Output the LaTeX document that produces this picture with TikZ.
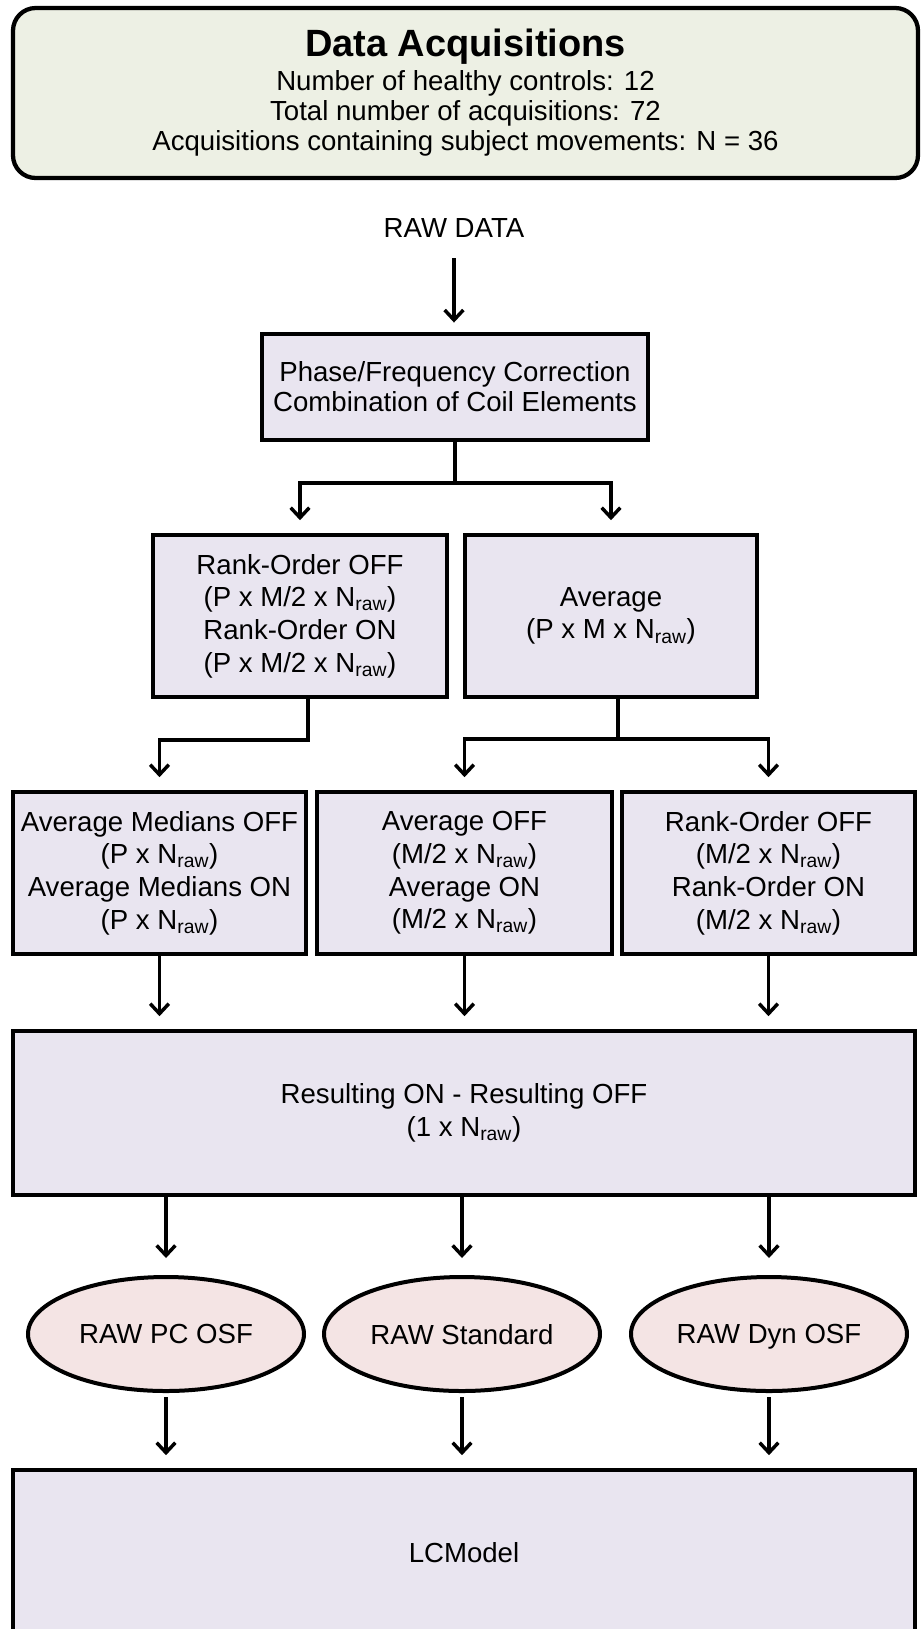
\documentclass[tikz,border=0pt]{standalone}
\usepackage{fontspec}
\setmainfont{Liberation Sans}
\usetikzlibrary{arrows.meta,shapes.geometric}

\definecolor{acqfill}{RGB}{237,240,228}
\definecolor{boxfill}{RGB}{233,229,240}
\definecolor{ovalfill}{RGB}{244,228,228}

\newcommand{\Nraw}{N\textsubscript{raw}}

\tikzset{every picture/.style={line width=0.75pt}}
\tikzset{
	blk/.style={draw, line width=3.2pt, fill=boxfill, align=center, inner sep=0pt, font=\fontsize{20.7}{24.5}\selectfont},
	oval/.style={ellipse, draw, line width=3pt, fill=ovalfill, inner sep=0pt, text depth=0pt, minimum width=207pt, minimum height=85.5pt, font=\fontsize{20.7}{24.5}\selectfont},
	arr/.style={line width=2.6pt, -{Straight Barb[length=7.5pt,width=14pt]}, shorten >=9.5pt},
	lnk/.style={line width=2.6pt}
}

\begin{document}
\begin{tikzpicture}[x=0.75pt,y=0.75pt,yscale=-1,xscale=1]
	\useasboundingbox (0,0) rectangle (923,1629);

	%Rounded Rect [acquisitions]
	\node (acq) at (465.5,93) [draw, line width=3.2pt, rounded corners=17pt, fill=acqfill, minimum width=678.75pt, minimum height=127.5pt, align=center, font=\fontsize{20.7}{22.5}\selectfont] {{\fontsize{28.5}{30}\selectfont\bfseries Data Acquisitions}\\[3pt]Number of healthy controls: 12\\Total number of acquisitions: 72\\Acquisitions containing subject movements: N = 36};

	% Text Node
	\node (raw) at (454,228) [font=\fontsize{20.7}{24.5}\selectfont] {RAW DATA};

	%Shape: Rectangle [preprocessing]
	\node (phase) at (455,387) [blk, minimum width=289.5pt, minimum height=79.5pt, font=\fontsize{20.7}{22.5}\selectfont] {Phase/Frequency Correction\\Combination of Coil Elements};

	%Shape: Rectangle [second row]
	\node (rank1) at (300,616) [blk, minimum width=220.5pt, minimum height=121.5pt] {Rank-Order OFF\\(P x M/2 x \Nraw)\\Rank-Order ON\\(P x M/2 x \Nraw)};
	\node (avg1) at (611,616) [blk, minimum width=219pt, minimum height=121.5pt] {Average\\(P x M x \Nraw)};

	%Shape: Rectangle [third row]
	\node (med) at (159.5,873) [blk, minimum width=219.75pt, minimum height=121.5pt] {Average Medians OFF\\(P x \Nraw)\\Average Medians ON\\(P x \Nraw)};
	\node (avg2) at (464.5,873) [blk, minimum width=221.25pt, minimum height=121.5pt] {Average OFF\\(M/2 x \Nraw)\\Average ON\\(M/2 x \Nraw)};
	\node (rank2) at (768.5,873) [blk, minimum width=219.75pt, minimum height=121.5pt] {Rank-Order OFF\\(M/2 x \Nraw)\\Rank-Order ON\\(M/2 x \Nraw)};

	%Shape: Rectangle [difference]
	\node (res) at (464,1113) [blk, minimum width=676.5pt, minimum height=123pt] {Resulting ON - Resulting OFF\\(1 x \Nraw)};

	%Shape: Ellipse [outputs]
	\node (pc) at (166,1334) [oval] {RAW PC OSF};
	\node (std) at (462,1334) [oval] {RAW Standard};
	\node (dyn) at (769,1334) [oval] {RAW Dyn OSF};

	%Shape: Rectangle [fitting]
	\node (lcm) at (464,1553) [blk, minimum width=676.5pt, minimum height=124.5pt] {LCModel};

	%Branch points
	\coordinate (fork1) at (455,483);
	\coordinate (fork2) at (308,740);
	\coordinate (fork3) at (618,739);

	%Straight Lines
	\draw [arr, shorten <=12pt, shorten >=7pt] (raw.south) -- (raw.south |- phase.north);
	\draw [lnk] (phase.south) -- (fork1);
	\draw [arr] (fork1) -| (rank1.north);
	\draw [arr] (fork1) -| (avg1.north);
	\draw [arr] (rank1.south -| fork2) -- (fork2) -| (med.north);
	\draw [lnk] (avg1.south -| fork3) -- (fork3);
	\draw [arr] (fork3) -| (avg2.north);
	\draw [arr] (fork3) -| (rank2.north);
	%Straight Lines
	\draw [arr] (med.south) -- (med.south |- res.north);
	\draw [arr] (avg2.south) -- (avg2.south |- res.north);
	\draw [arr] (rank2.south) -- (rank2.south |- res.north);
	%Straight Lines
	\draw [arr, shorten >=12.75pt] (pc.north |- res.south) -- (pc.north);
	\draw [arr, shorten >=12.75pt] (std.north |- res.south) -- (std.north);
	\draw [arr, shorten >=12.75pt] (dyn.north |- res.south) -- (dyn.north);
	%Straight Lines
	\draw [arr, shorten <=3pt] (pc.south) -- (pc.south |- lcm.north);
	\draw [arr, shorten <=3pt] (std.south) -- (std.south |- lcm.north);
	\draw [arr, shorten <=3pt] (dyn.south) -- (dyn.south |- lcm.north);

\end{tikzpicture}
\end{document}
